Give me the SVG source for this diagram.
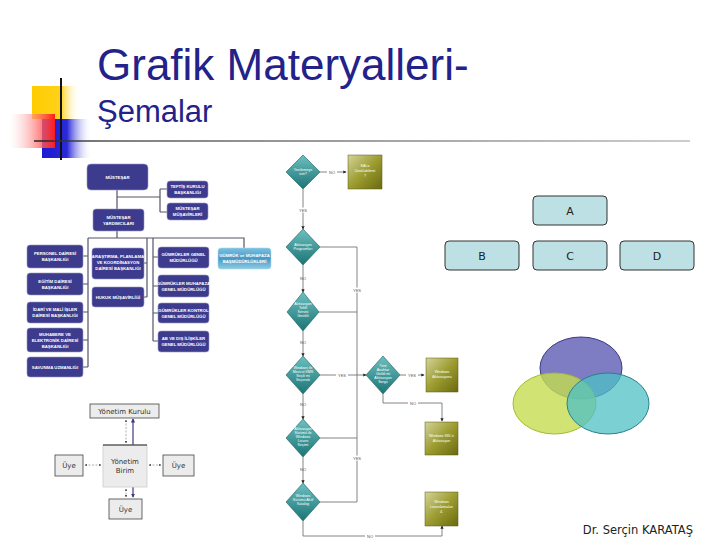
<svg xmlns="http://www.w3.org/2000/svg" width="720" height="540" viewBox="0 0 720 540">
<defs>
<style>
.title{font-family:"Liberation Sans",Arial,sans-serif;fill:#22228a}
.ob rect{fill:#3d3b8e;stroke:#9a9ac8;stroke-width:0.6}
.ob text{font-family:"Liberation Sans",Arial,sans-serif;font-size:4.3px;font-weight:bold;fill:#fff;text-anchor:middle}
.oc{stroke:#55556a;stroke-width:1.2;fill:none}
.fd polygon{fill:url(#teal);stroke:#1a5f5f;stroke-width:0.6}
.fd text,.fb text{font-family:"Liberation Sans",Arial,sans-serif;font-size:3.6px;fill:#fff;text-anchor:middle}
.fb rect{fill:url(#olive);stroke:#5a5a10;stroke-width:0.5}
.fc{stroke:#666;stroke-width:0.8;fill:none}
.fl{font-family:"Liberation Sans",Arial,sans-serif;font-size:4px;fill:#555;text-anchor:middle}
.tb rect{fill:#bde0e4;stroke:#333;stroke-width:1}
.tb text{font-family:"DejaVu Sans",Verdana,sans-serif;font-size:11px;fill:#222;text-anchor:middle}
.yb rect{fill:#ececec;stroke:#444;stroke-width:0.8}
.yb text{font-family:"DejaVu Sans",Verdana,sans-serif;font-size:7px;fill:#333;text-anchor:middle}
.yc{stroke:#999;stroke-width:0.8;stroke-dasharray:2,1.5;fill:none}
</style>
<linearGradient id="yel" x1="0" y1="0" x2="1" y2="0"><stop offset="0" stop-color="#ffcc00"/><stop offset="0.6" stop-color="#ffd21a"/><stop offset="1" stop-color="#ffffff" stop-opacity="0"/></linearGradient>
<linearGradient id="red" x1="0" y1="0" x2="1" y2="0"><stop offset="0" stop-color="#ffffff" stop-opacity="0.3"/><stop offset="1" stop-color="#ff1a1a"/></linearGradient>
<linearGradient id="blu" x1="0" y1="0" x2="1" y2="0"><stop offset="0" stop-color="#1a1ad0"/><stop offset="0.5" stop-color="#2a2ad8"/><stop offset="1" stop-color="#ffffff" stop-opacity="0"/></linearGradient>
<linearGradient id="hline" gradientUnits="userSpaceOnUse" x1="34" y1="0" x2="690" y2="0"><stop offset="0" stop-color="#222"/><stop offset="0.12" stop-color="#555"/><stop offset="1" stop-color="#bcbcbc"/></linearGradient>
<linearGradient id="teal" x1="0" y1="0" x2="0" y2="1"><stop offset="0" stop-color="#6cc0c0"/><stop offset="1" stop-color="#1c7474"/></linearGradient>
<linearGradient id="olive" x1="0" y1="0" x2="1" y2="1"><stop offset="0" stop-color="#d4d49a"/><stop offset="0.5" stop-color="#9c9c30"/><stop offset="1" stop-color="#6a6a10"/></linearGradient>
<linearGradient id="sky" x1="0" y1="0" x2="0" y2="1"><stop offset="0" stop-color="#7cc0e0"/><stop offset="0.5" stop-color="#4a98c4"/><stop offset="1" stop-color="#8ccbe4"/></linearGradient>
<marker id="ah" viewBox="0 0 6 6" refX="5" refY="3" markerWidth="4" markerHeight="4" orient="auto"><path d="M0,0 L6,3 L0,6 z" fill="#222"/></marker>
<marker id="ahs" viewBox="0 0 6 6" refX="5" refY="3" markerWidth="3" markerHeight="3" orient="auto-start-reverse"><path d="M0,0 L6,3 L0,6 z" fill="#555"/></marker>
<marker id="ahn" viewBox="0 0 6 6" refX="5" refY="3" markerWidth="3.5" markerHeight="3.5" orient="auto-start-reverse"><path d="M0,0 L6,3 L0,6 z" fill="#3a3a80"/></marker>
</defs>
<rect width="720" height="540" fill="#fff"/>

<g id="decoration">
<rect x="32" y="86" width="48" height="33" fill="url(#yel)"/>
<rect x="42" y="119" width="50" height="39" fill="url(#blu)"/>
<rect x="10" y="114" width="45" height="34" fill="url(#red)"/>
<line x1="61" y1="78" x2="61" y2="160" stroke="#111" stroke-width="2"/>
<line x1="34" y1="141" x2="690" y2="141" stroke="url(#hline)" stroke-width="1.5"/>
</g>

<g id="title">
<text class="title" x="97" y="80" font-size="44">Grafik Materyalleri-</text>
<text class="title" x="97" y="122" font-size="31">Şemalar</text>
</g>

<g id="orgchart-connectors">
<path class="oc" d="M117,190 V209 M117,197 H160 M160,189 V212 M160,189 H167 M160,212 H167"/>
<path class="oc" d="M117,231 V238 M88,238 H244 V248"/>
<path class="oc" d="M88,238 V367 M83,256 H88 M83,284 H88 M83,312 H88 M83,340 H88 M83,367 H88"/>
<path class="oc" d="M147,238 V297 M144,263 H147 M144,297 H147"/>
<path class="oc" d="M153,238 V341 M153,257 H158 M153,286 H158 M153,313 H158 M153,341 H158"/>
</g>
<g id="org-mustesar" class="ob"><rect x="87" y="164" width="61" height="26" rx="4"/><text x="117.5" y="179" font-size="6px">MÜSTEŞAR</text></g>
<g id="org-teftis" class="ob"><rect x="167" y="181" width="41" height="17" rx="3"/><text x="187.5" y="188">TEFTİŞ KURULU</text><text x="187.5" y="194">BAŞKANLIĞI</text></g>
<g id="org-musavir" class="ob"><rect x="167" y="203" width="41" height="17" rx="3"/><text x="187.5" y="210">MÜSTEŞAR</text><text x="187.5" y="216">MÜŞAVİRLERİ</text></g>
<g id="org-yardimci" class="ob"><rect x="93" y="209" width="51" height="22" rx="3"/><text x="118.5" y="218.5">MÜSTEŞAR</text><text x="118.5" y="225">YARDIMCILARI</text></g>
<g id="org-personel" class="ob"><rect x="27" y="245" width="56" height="23" rx="3"/><text x="55" y="255">PERSONEL DAİRESİ</text><text x="55" y="261">BAŞKANLIĞI</text></g>
<g id="org-egitim" class="ob"><rect x="27" y="273" width="56" height="22" rx="3"/><text x="55" y="283">EĞİTİM DAİRESİ</text><text x="55" y="289">BAŞKANLIĞI</text></g>
<g id="org-idari" class="ob"><rect x="27" y="302" width="56" height="21" rx="3"/><text x="55" y="311">İDARİ VE MALİ İŞLER</text><text x="55" y="317">DAİRESİ BAŞKANLIĞI</text></g>
<g id="org-muhabere" class="ob"><rect x="27" y="328" width="56" height="24" rx="3"/><text x="55" y="336">MUHABERE VE</text><text x="55" y="342">ELEKTRONİK DAİRESİ</text><text x="55" y="348">BAŞKANLIĞI</text></g>
<g id="org-savunma" class="ob"><rect x="27" y="357" width="56" height="20" rx="3"/><text x="55" y="368.5">SAVUNMA UZMANLIĞI</text></g>
<g id="org-arastirma" class="ob"><rect x="92" y="248" width="52" height="31" rx="3"/><text x="118" y="258">ARAŞTIRMA, PLANLAMA</text><text x="118" y="264">VE KOORDİNASYON</text><text x="118" y="270">DAİRESİ BAŞKANLIĞI</text></g>
<g id="org-hukuk" class="ob"><rect x="92" y="287" width="52" height="20" rx="3"/><text x="118" y="298.5">HUKUK MÜŞAVİRLİĞİ</text></g>
<g id="org-gumrukler" class="ob"><rect x="158" y="247" width="51" height="21" rx="3"/><text x="183.5" y="256">GÜMRÜKLER GENEL</text><text x="183.5" y="262">MÜDÜRLÜĞÜ</text></g>
<g id="org-muhafaza" class="ob"><rect x="158" y="275" width="51" height="22" rx="3"/><text x="183.5" y="284.5">GÜMRÜKLER MUHAFAZA</text><text x="183.5" y="290.5">GENEL MÜDÜRLÜĞÜ</text></g>
<g id="org-kontrol" class="ob"><rect x="158" y="303" width="51" height="20" rx="3"/><text x="183.5" y="311.5">GÜMRÜKLER KONTROL</text><text x="183.5" y="317.5">GENEL MÜDÜRLÜĞÜ</text></g>
<g id="org-ab" class="ob"><rect x="158" y="331" width="51" height="21" rx="3"/><text x="183.5" y="340">AB VE DIŞ İLİŞKİLER</text><text x="183.5" y="346">GENEL MÜDÜRLÜĞÜ</text></g>
<g id="org-basmudur" class="ob"><rect x="218" y="248" width="53" height="21" rx="3" style="fill:url(#sky);stroke:#a8d8ec"/><text x="244.5" y="257">GÜMRÜK ve MUHAFAZA</text><text x="244.5" y="263">BAŞMÜDÜRLÜKLERİ</text></g>

<g id="flow-connectors">
<path class="fc" d="M320,172 H346" marker-end="url(#ah)"/>
<path class="fc" d="M303,189 V229" marker-end="url(#ah)"/>
<path class="fc" d="M303,265 V292" marker-end="url(#ah)"/>
<path class="fc" d="M303,331 V356" marker-end="url(#ah)"/>
<path class="fc" d="M303,394 V419" marker-end="url(#ah)"/>
<path class="fc" d="M303,457 V483" marker-end="url(#ah)"/>
<path class="fc" d="M320,247 H357 V502 M319,312 H357 M320,438 H357 M320,502 H357"/>
<path class="fc" d="M320,375 H366" marker-end="url(#ah)"/>
<path class="fc" d="M400,375 H424" marker-end="url(#ah)"/>
<path class="fc" d="M383,394 V403 H442 V421" marker-end="url(#ah)"/>
<path class="fc" d="M303,521 V536 H442 V526" marker-end="url(#ah)"/>
<rect x="327" y="169.5" width="10" height="5" fill="#fff"/><text class="fl" x="332" y="173.5">NO</text>
<rect x="297" y="207.5" width="12" height="5" fill="#fff"/><text class="fl" x="303" y="211.5">YES</text>
<text class="fl" x="303" y="280">NO</text>
<rect x="351" y="287.5" width="12" height="5" fill="#fff"/><text class="fl" x="357" y="291.5">YES</text>
<text class="fl" x="303" y="344">NO</text>
<rect x="336" y="372.5" width="12" height="5" fill="#fff"/><text class="fl" x="342" y="376.5">YES</text>
<rect x="406" y="372.5" width="12" height="5" fill="#fff"/><text class="fl" x="412" y="376.5">YES</text>
<rect x="408" y="400.5" width="10" height="5" fill="#fff"/><text class="fl" x="413" y="404.5">NO</text>
<text class="fl" x="303" y="406">NO</text>
<rect x="351" y="455.5" width="12" height="5" fill="#fff"/><text class="fl" x="357" y="459.5">YES</text>
<text class="fl" x="303" y="471">NO</text>
<rect x="365" y="533.5" width="10" height="5" fill="#fff"/><text class="fl" x="370" y="537.5">NO</text>
</g>
<g id="flow-d1" class="fd"><polygon points="303,155 320,172 303,189 286,172"/><text x="303" y="171">Yenilemeye</text><text x="303" y="175">izin?</text></g>
<g id="flow-b1" class="fb"><rect x="348" y="155" width="34" height="34"/><text x="365" y="167">SALo</text><text x="365" y="172">Uzatılabilirmi</text><text x="365" y="177">?</text></g>
<g id="flow-d2" class="fd"><polygon points="303,229 320,247 303,265 286,247"/><text x="303" y="246">Aktivasyon</text><text x="303" y="250">Programları</text></g>
<g id="flow-d3" class="fd"><polygon points="303,292 319,312 303,331 287,312"/><text x="303" y="305">Aktivasyon</text><text x="303" y="309">Teklif</text><text x="303" y="313">Servisi</text><text x="303" y="317">Gerekli</text></g>
<g id="flow-d4" class="fd"><polygon points="303,356 320,375 303,394 286,375"/><text x="303" y="369">Windows ile</text><text x="303" y="373">Mevcut KMS</text><text x="303" y="377">Seçili mi</text><text x="303" y="381">Seçenek</text></g>
<g id="flow-d4b" class="fd"><polygon points="383,356 400,375 383,394 366,375"/><text x="383" y="367">Yeni</text><text x="383" y="371">Anahtar</text><text x="383" y="375">Girildi mi</text><text x="383" y="379">Aktivasyon</text><text x="383" y="383">Sorgu</text></g>
<g id="flow-b4" class="fb"><rect x="426" y="358" width="32" height="34"/><text x="442" y="373">Windows</text><text x="442" y="378">Aktivasyonu</text></g>
<g id="flow-b5" class="fb"><rect x="425" y="422" width="33" height="33"/><text x="441.5" y="437">Windows SKL'e</text><text x="441.5" y="442">Aktivasyon</text></g>
<g id="flow-d5" class="fd"><polygon points="303,419 320,438 303,457 286,438"/><text x="303" y="430">Aktivasyon</text><text x="303" y="434">Sürümü ile</text><text x="303" y="438">Windows</text><text x="303" y="442">Lisans</text><text x="303" y="446">Seçimi</text></g>
<g id="flow-d6" class="fd"><polygon points="303,483 320,502 303,521 286,502"/><text x="303" y="497">Windows</text><text x="303" y="501">Sürümü Aktif</text><text x="303" y="505">Katalog</text></g>
<g id="flow-b6" class="fb"><rect x="425" y="492" width="33" height="34"/><text x="441.5" y="503">Windows</text><text x="441.5" y="508">Lisanslamaları</text><text x="441.5" y="513">4.</text></g>

<g id="tree-A" class="tb"><rect x="533" y="196" width="74" height="29" rx="4"/><text x="570" y="215">A</text></g>
<g id="tree-B" class="tb"><rect x="445" y="241" width="74" height="29" rx="4"/><text x="482" y="260">B</text></g>
<g id="tree-C" class="tb"><rect x="533" y="241" width="74" height="29" rx="4"/><text x="570" y="260">C</text></g>
<g id="tree-D" class="tb"><rect x="620" y="241" width="74" height="29" rx="4"/><text x="657" y="260">D</text></g>

<g id="venn">
<ellipse cx="581" cy="368" rx="41" ry="31" fill="#7e7cc2" stroke="#3a3a88" stroke-width="1"/>
<ellipse cx="554.5" cy="403.5" rx="41.5" ry="30.5" fill="#c4dc50" fill-opacity="0.8" stroke="#a8b830" stroke-width="1"/>
<ellipse cx="608" cy="403.5" rx="41" ry="30.5" fill="#4ec0c4" fill-opacity="0.75" stroke="#2a8090" stroke-width="1"/>
</g>

<g id="yon-connectors">
<path class="yc" d="M126,420 V443" marker-start="url(#ahs)" marker-end="url(#ahs)"/>
<path class="yc" d="M126,489 V497" marker-start="url(#ahs)" marker-end="url(#ahs)"/>
<path class="yc" d="M85,465 H101" marker-start="url(#ahs)" marker-end="url(#ahs)"/>
<path class="yc" d="M149,465 H161" marker-start="url(#ahs)" marker-end="url(#ahs)"/>
<path d="M133,419 V497" stroke="#3a3a80" stroke-width="1.2" fill="none" marker-start="url(#ahn)" marker-end="url(#ahn)"/>
</g>
<g id="yon-kurul" class="yb"><rect x="90" y="404" width="69" height="14"/><text x="124.5" y="413.5">Yönetim Kurulu</text></g>
<g id="yon-birim" class="yb"><rect x="103" y="445" width="44" height="42" style="stroke:#ccc"/><line x1="103" y1="445" x2="147" y2="445" stroke="#222" stroke-width="1"/><text x="125" y="464">Yönetim</text><text x="125" y="473">Birim</text></g>
<g id="yon-uye-l" class="yb"><rect x="55" y="455" width="28" height="21"/><text x="69" y="468">Üye</text></g>
<g id="yon-uye-r" class="yb"><rect x="163" y="455" width="31" height="21"/><text x="178.5" y="468">Üye</text></g>
<g id="yon-uye-b" class="yb"><rect x="109" y="499" width="33" height="20"/><text x="125.5" y="512">Üye</text></g>

<text x="693" y="534" font-family="DejaVu Sans,Verdana,sans-serif" font-size="11.5" fill="#222" text-anchor="end">Dr. Serçin KARATAŞ</text>
</svg>
